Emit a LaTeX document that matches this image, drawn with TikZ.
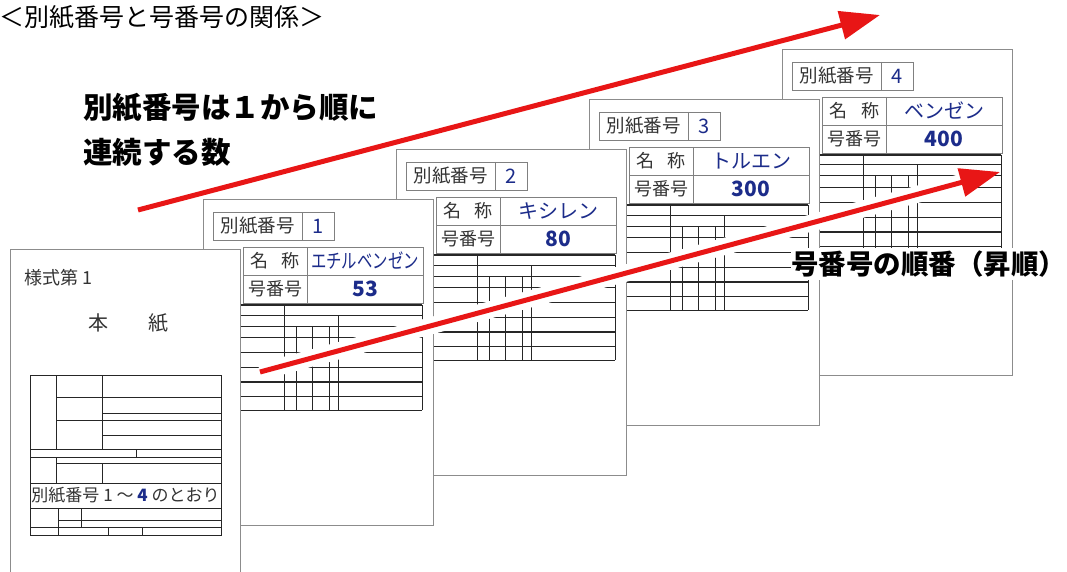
\documentclass[tikz,border=0pt]{standalone}
\usepackage{fontspec}
\setmainfont{Noto Sans CJK JP}
\usetikzlibrary{arrows.meta}
\definecolor{arrowred}{RGB}{232,22,22}
\definecolor{valblue}{RGB}{28,44,138}

\begin{document}
\begin{tikzpicture}[x=1pt, y=-1pt,
    sheet/.style={draw=black!45, fill=white, line width=0.8pt},
    grid/.style={draw=black!85, line width=1pt},
    gridbold/.style={draw=black!85, line width=1.6pt},
    cell/.style={draw=black!50, line width=0.8pt},
    lbl/.style={inner sep=0pt, text=black!80, font=\fontsize{17}{17}\selectfont},
    val/.style={inner sep=0pt, text=valblue, font=\fontsize{20}{20}\selectfont},
    headline/.style={inner sep=0pt, anchor=west, font=\bfseries\fontsize{29.5}{29.5}\selectfont},
    redarrow/.style={draw=arrowred, line width=5pt, -{Triangle[length=40pt,width=28pt]}},
    halo/.style={draw=white, line width=17pt, shorten >=36pt}]
  \useasboundingbox (0,0) rectangle (1067,572);
  \clip (0,0) rectangle (1067,572);

  % sheets 4 ... 1, back to front
  \foreach \k/\nm/\gn/\sx in {4/ベンゼン/400/1, 3/トルエン/300/1, 2/キシレン/80/1, 1/エチルベンゼン/53/0.77}{
    \begin{scope}[shift={(10+193*\k,249-50*\k)}]
      \draw[sheet] (0,0) rectangle (230,326);
      \draw[cell] (10,13) rectangle (131,41) (99,13) -- (99,41);
      \node[lbl, font=\fontsize{18.5}{18.5}\selectfont] (ref\k) at (54.5,27) {別紙番号};
      \node[val] (refno\k) at (115,27) {\k};
      \draw[cell] (40,48) rectangle (220,104) (40,76) -- (220,76) (104,48) -- (104,104);
      \node[lbl, font=\fontsize{18}{18}\selectfont] (namelbl\k) at (72,62) {名\hspace{14pt}称};
      \node[lbl, font=\fontsize{18}{18}\selectfont] (gnlbl\k) at (72,90) {号番号};
      \node[val] (name\k) at (162,62) {\scalebox{\sx}[1]{\nm}};
      \node[val, font=\bfseries\fontsize{21}{21}\selectfont] (gn\k) at (162,90) {\gn};
      % ruled table
      \draw[gridbold] (20,106) -- (219,106) (20,183) -- (219,183);
      \draw[grid] (20,116) -- (219,116) (20,127) -- (219,127) (20,138) -- (219,138)
        (20,153) -- (219,153) (20,168) -- (219,168) (20,197) -- (219,197) (20,211) -- (219,211);
      \draw[grid] (81,106) -- (81,211) (135,116) -- (135,211) (219,106) -- (219,211);
      \draw[grid] (93,127) -- (93,211) (109,127) -- (109,211) (126,127) -- (126,211);
    \end{scope}
  }

  % main sheet
  \draw[sheet] (10,249) rectangle (240,600);
  \node[lbl, anchor=west, font=\fontsize{18}{18}\selectfont] (form) at (24,278) {様式第 1};
  \node[lbl, font=\fontsize{20}{20}\selectfont] (main) at (128,323) {本　　紙};
  \draw[grid] (30,375) rectangle (221,535);
  \draw[grid] (56,375) -- (56,449) (102,375) -- (102,449)
    (56,397) -- (221,397) (102,413) -- (221,413) (56,420) -- (221,420) (102,435) -- (221,435)
    (30,449) -- (221,449) (30,457) -- (221,457) (136,449) -- (136,457)
    (56,457) -- (56,483) (56,463) -- (221,463) (102,463) -- (102,483) (30,483) -- (221,483)
    (30,508) -- (221,508) (58,508) -- (58,535) (81,508) -- (81,527) (58,520) -- (221,520)
    (30,527) -- (221,527) (108,527) -- (108,535) (142,527) -- (142,535);
  \node[lbl] (seeref) at (125.5,495.5) {別紙番号 1 ～ {\color{valblue}\bfseries 4} のとおり};

  % arrows
  \coordinate (seqtail) at (138,210);
  \coordinate (seqhead) at (880,15);
  \coordinate (gntail) at (260,372);
  \coordinate (gnhead) at (1000,172);
  \draw[redarrow] (seqtail) -- (seqhead);
  \draw[halo] (gntail) -- (gnhead);
  \draw[redarrow] (gntail) -- (gnhead);

  % texts
  \node[inner sep=0pt, anchor=west, font=\fontsize{25}{25}\selectfont] (title) at (-1,17) {＜別紙番号と号番号の関係＞};
  \node[headline] (seqtext1) at (83,108) {別紙番号は１から順に};
  \node[headline] (seqtext2) at (83,152) {連続する数};
  \node[headline, font=\bfseries\fontsize{27.5}{27.5}\selectfont, fill=white, inner xsep=0pt, inner ysep=3pt] (gntext) at (791,264) {号番号の順番（昇順）};
\end{tikzpicture}
\end{document}
